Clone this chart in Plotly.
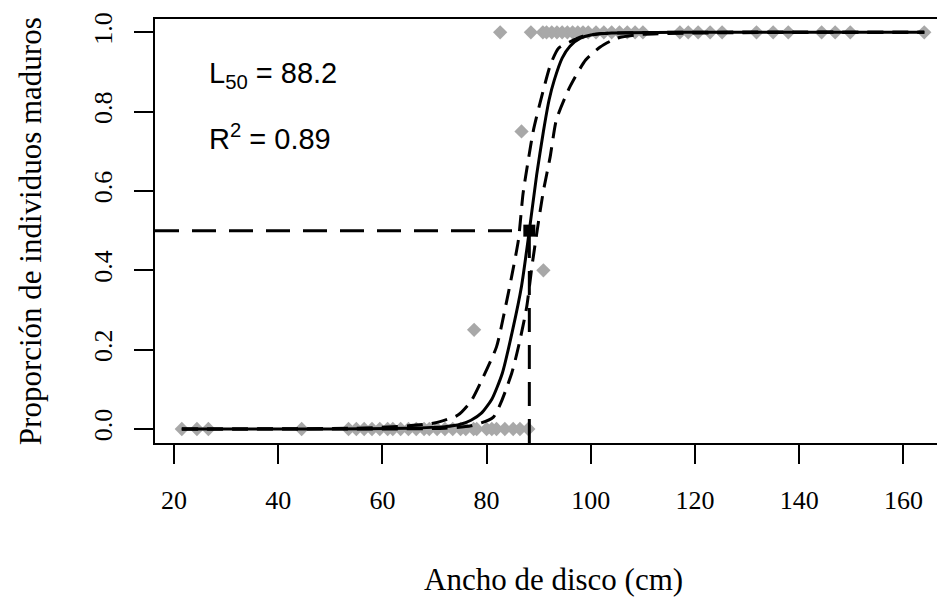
import plotly.graph_objects as go

# ---------------- data ----------------
# observed proportions (grey diamonds)
immature_x = [21.5, 24.4, 26.6, 44.5, 53.5, 55.0, 56.5, 58.0, 59.5, 61.0, 62.0, 63.5,
              65.0, 66.5, 68.0, 69.0, 70.5, 72.0, 73.5, 75.0, 76.0, 77.5, 78.1, 80.0,
              81.0, 81.9, 83.5, 85.1, 86.4, 88.0]
immature_y = [0.0] * len(immature_x)

mature_x = [82.6, 88.5, 90.8, 91.5, 92.5, 93.5, 94.5, 95.5, 96.5, 97.5, 98.5, 99.5,
            101.0, 102.5, 104.0, 105.5, 107.0, 108.5, 110.0, 117.1, 118.7, 120.6,
            122.9, 125.2, 131.8, 135.0, 137.9, 144.3, 146.9, 149.8, 164.0]
mature_y = [1.0] * len(mature_x)

mid_x = [77.6, 86.7, 90.9]
mid_y = [0.25, 0.75, 0.40]

# fitted logistic curve
fit_x = [21.5, 50, 65, 72, 75, 77, 79, 81, 83, 85, 86.7, 88.2, 89.6, 90.9, 92, 93,
         94.5, 96, 98, 100, 104, 120, 164]
fit_y = [0.0, 0.0, 0.002, 0.006, 0.012, 0.022, 0.04, 0.075, 0.14, 0.25, 0.36, 0.5,
         0.64, 0.75, 0.83, 0.88, 0.935, 0.965, 0.985, 0.993, 0.998, 1.0, 1.0]

# confidence bounds
upper_x = [21.5, 55, 65, 70, 74.5, 77, 79.1, 81.9, 83.5, 84.8, 86.1, 87.0, 88.0, 89.0,
           90.9, 92.3, 93.8, 96, 98.5, 102, 164]
upper_y = [0.0, 0.002, 0.008, 0.015, 0.035, 0.07, 0.124, 0.207, 0.30, 0.384, 0.476,
           0.594, 0.678, 0.754, 0.855, 0.92, 0.96, 0.976, 0.99, 0.997, 1.0]

lower_x = [21.5, 60, 72, 77, 81.3, 84.8, 86.4, 87.7, 88.7, 89.7, 90.9, 92.2, 93.4, 96.0,
           99, 101.8, 105, 110, 164]
lower_y = [0.0, 0.0, 0.002, 0.008, 0.03, 0.14, 0.224, 0.308, 0.41, 0.5, 0.60, 0.686,
           0.78, 0.863, 0.93, 0.963, 0.985, 0.995, 1.0]

L50 = 88.2
R2 = 0.89
P50 = 0.5

x_ticks = [20, 40, 60, 80, 100, 120, 140, 160]
y_ticks = [0.0, 0.2, 0.4, 0.6, 0.8, 1.0]
y_ticklabels = ["0.0", "0.2", "0.4", "0.6", "0.8", "1.0"]

x_title = "Ancho de disco (cm)"
y_title = "Proporción de individuos maduros"

# ---------------- layout constants ----------------
X_RANGE = [16.353, 167.98]
Y_RANGE = [-0.0353, 1.0335]
GREY = "#A8A8A8"
SERIF = "Liberation Serif"
SANS = "Liberation Sans"
PAGE_OFFSET = 8  # default body margin of the html page

fig = go.Figure()

pts_x = immature_x + mid_x + mature_x
pts_y = immature_y + mid_y + mature_y
fig.add_trace(go.Scatter(x=pts_x, y=pts_y, mode="markers",
                         marker=dict(symbol="diamond", size=11, color=GREY,
                                     line=dict(width=0)),
                         hoverinfo="skip"))

fig.add_trace(go.Scatter(x=fit_x, y=fit_y, mode="lines",
                         line=dict(color="black", width=3, shape="spline", smoothing=0.6)))
fig.add_trace(go.Scatter(x=upper_x, y=upper_y, mode="lines",
                         line=dict(color="black", width=3, dash="16px,9px",
                                   shape="spline", smoothing=0.6)))
fig.add_trace(go.Scatter(x=lower_x, y=lower_y, mode="lines",
                         line=dict(color="black", width=3, dash="16px,9px",
                                   shape="spline", smoothing=0.6)))

# L50 reference lines
fig.add_trace(go.Scatter(x=[X_RANGE[0], L50], y=[P50, P50], mode="lines",
                         line=dict(color="black", width=3, dash="24px,13px")))
fig.add_trace(go.Scatter(x=[L50, L50], y=[Y_RANGE[0], P50], mode="lines",
                         line=dict(color="black", width=3, dash="24px,13px")))
fig.add_trace(go.Scatter(x=[L50], y=[P50], mode="markers",
                         marker=dict(symbol="square", size=12, color="black")))

fig.add_annotation(x=26.3, y=0.892, xref="x", yref="y", xanchor="left", yanchor="middle",
                   text=f"L<sub>50</sub> = {L50}", showarrow=False,
                   font=dict(family=SANS, size=29, color="black"))
fig.add_annotation(x=26.3, y=0.736, xref="x", yref="y", xanchor="left", yanchor="middle",
                   text=f"R<sup>2</sup> = {R2}", showarrow=False,
                   font=dict(family=SANS, size=29, color="black"))

fig.add_annotation(x=0.504, y=-0.323, xref="paper", yref="paper", xanchor="center",
                   yanchor="middle", text=x_title, showarrow=False,
                   font=dict(family=SERIF, size=31, color="black"))
fig.add_annotation(x=-0.158, y=0.5, xref="paper", yref="paper", xanchor="center",
                   yanchor="middle", text=y_title, showarrow=False, textangle=-90,
                   font=dict(family=SERIF, size=31, color="black"))

fig.update_layout(
    width=945 - PAGE_OFFSET, height=603 - PAGE_OFFSET,
    margin=dict(l=155 - PAGE_OFFSET, r=0, t=19 - PAGE_OFFSET, b=160),
    paper_bgcolor="white", plot_bgcolor="white",
    showlegend=False,
    xaxis=dict(range=X_RANGE, tickvals=x_ticks, ticks="outside", ticklen=19,
               tickwidth=2, tickcolor="black", showline=True, linecolor="black",
               linewidth=2, mirror=True, showgrid=False, zeroline=False,
               ticklabelstandoff=14,
               tickfont=dict(family=SERIF, size=26, color="black")),
    yaxis=dict(range=Y_RANGE, tickvals=y_ticks, ticktext=y_ticklabels, ticks="outside",
               ticklen=19, tickwidth=2, tickcolor="black", showline=True,
               linecolor="black", linewidth=2, showgrid=False, zeroline=False,
               tickangle=-90, ticklabelstandoff=12,
               tickfont=dict(family=SERIF, size=26, color="black")),
)

fig.write_html("out.html")
